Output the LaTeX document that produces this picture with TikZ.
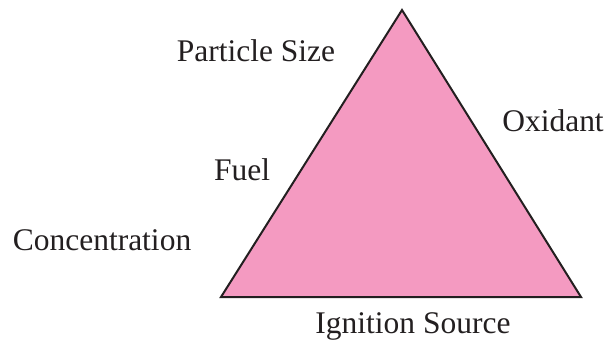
\documentclass[tikz,border=0pt]{standalone}
\usepackage{fontspec}
\setmainfont{Liberation Serif}
\usepackage{tikz}
\usetikzlibrary{positioning}
\definecolor{firePink}{HTML}{F49AC1}
\definecolor{fireInk}{HTML}{231F20}

\begin{document}
\begin{tikzpicture}[
  x=1pt, y=-1pt,
  label/.style={anchor=base, inner sep=0pt, text=fireInk, font=\fontsize{31.5}{36}\selectfont},
  side/.style={draw=fireInk, line width=2pt, line join=miter, fill=firePink}
]
\useasboundingbox (0,0) rectangle (608,343);
\coordinate (top) at (402,10);
\coordinate (left) at (221,297);
\coordinate (right) at (581,297);
\filldraw[side] (top) -- (left) -- (right) -- cycle;
\node[label] (size) at (256,61) {Particle Size};
\node[label] (oxidant) at (553,131) {Oxidant};
\node[label] (fuel) at (242,180) {Fuel};
\node[label] (conc) at (102,250) {Concentration};
\node[label] (ignition) at (413,333) {Ignition Source};
\end{tikzpicture}
\end{document}
